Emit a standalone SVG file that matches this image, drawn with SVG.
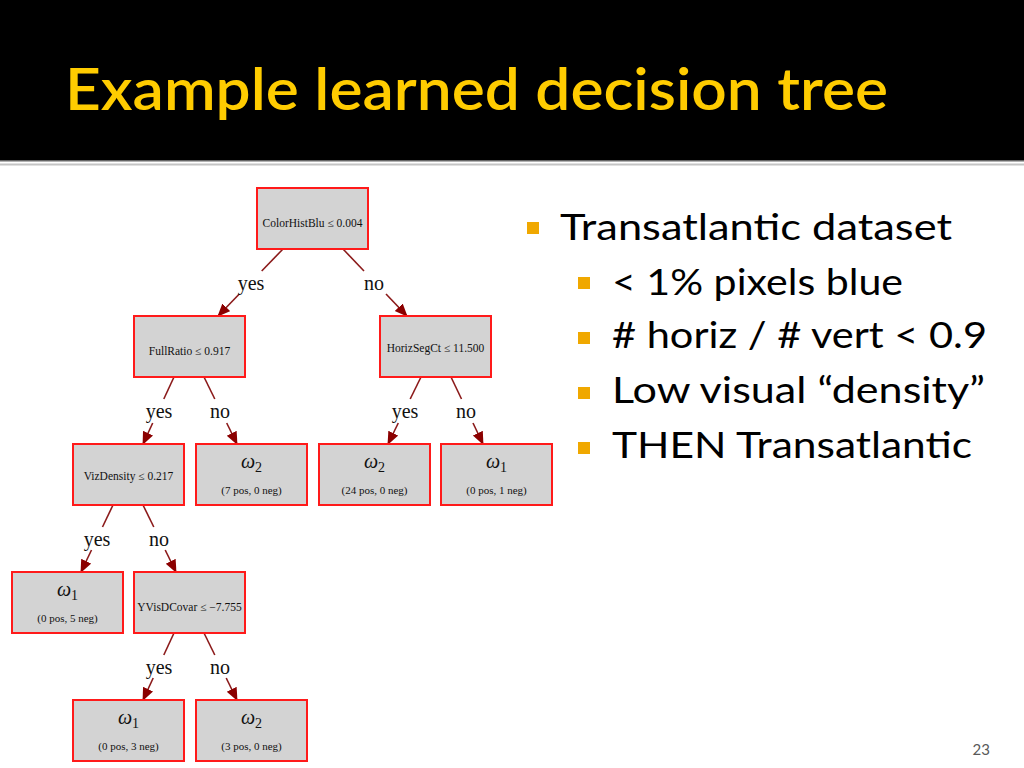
<svg xmlns="http://www.w3.org/2000/svg" width="1024" height="768" viewBox="0 0 1024 768">
<defs>
<style>
.box{fill:#d3d3d3;stroke:#ff1a1a;stroke-width:2}
.t{font-family:"Liberation Serif","Times New Roman",serif;fill:#111;text-anchor:middle}
.cond{font-size:11.5px}
.cnt{font-size:11px}
.om{font-size:20px;font-style:italic}
.sub{font-size:14px;font-style:normal}
.lab{font-family:"Liberation Serif","Times New Roman",serif;font-size:20px;fill:#111;text-anchor:middle}
.e{stroke:#8b1a1a;stroke-width:1.6;fill:none}
.ea{stroke:#8b1a1a;stroke-width:1.6;fill:none;marker-end:url(#ah)}
.bt{font-family:Lato,"Open Sans",sans-serif;font-size:36px;fill:#000}
.bl{fill:#f0a800}
</style>
<marker id="ah" markerUnits="userSpaceOnUse" markerWidth="14" markerHeight="12" refX="12" refY="5.5" orient="auto">
<path d="M0,0 L13,5.5 L0,11 z" fill="#8b0000"/>
</marker>
</defs>
<rect width="1024" height="768" fill="#fff"/>
<rect x="0" y="0" width="1024" height="160" fill="#000"/>
<rect x="0" y="160" width="1024" height="1.5" fill="#666"/>
<rect x="0" y="163.5" width="1024" height="2" fill="#c4c4c4"/>
<text x="65" y="110" font-family="Lato,'Open Sans',sans-serif" font-weight="600" font-size="57" fill="#ffcc00" textLength="823" lengthAdjust="spacingAndGlyphs">Example learned decision tree</text>

<g id="edges">
<line class="e" x1="283" y1="249" x2="261.7" y2="271"/><line class="ea" x1="239.3" y1="294" x2="218" y2="316"/>
<line class="e" x1="343" y1="249" x2="364" y2="271"/><line class="ea" x1="386" y1="294" x2="407" y2="316"/>
<line class="e" x1="174" y1="377" x2="163.8" y2="399"/><line class="ea" x1="152.7" y1="423" x2="143" y2="444"/>
<line class="e" x1="204" y1="377" x2="214.8" y2="399"/><line class="ea" x1="226.7" y1="423" x2="237" y2="444"/>
<line class="e" x1="421" y1="377" x2="410.2" y2="399"/><line class="ea" x1="398.3" y1="423" x2="388" y2="444"/>
<line class="e" x1="451" y1="377" x2="461.5" y2="399"/><line class="ea" x1="473" y1="423" x2="483" y2="444"/>
<line class="e" x1="113" y1="505" x2="102.5" y2="527"/><line class="ea" x1="91.5" y1="550" x2="81" y2="572"/>
<line class="e" x1="143" y1="505" x2="153.8" y2="527"/><line class="ea" x1="165.2" y1="550" x2="176" y2="572"/>
<line class="e" x1="174" y1="633" x2="163.8" y2="655"/><line class="ea" x1="153.2" y1="678" x2="143" y2="700"/>
<line class="e" x1="204" y1="633" x2="214.8" y2="655"/><line class="ea" x1="226.2" y1="678" x2="237" y2="700"/>
<text class="lab" x="251" y="290">yes</text><text class="lab" x="374" y="290">no</text>
<text class="lab" x="159" y="418">yes</text><text class="lab" x="220" y="418">no</text>
<text class="lab" x="405" y="418">yes</text><text class="lab" x="466" y="418">no</text>
<text class="lab" x="97" y="546">yes</text><text class="lab" x="159" y="546">no</text>
<text class="lab" x="159" y="674">yes</text><text class="lab" x="220" y="674">no</text>
</g>

<g id="n_root"><rect class="box" x="257" y="188" width="111" height="61"/><text class="t cond" x="312.5" y="227">ColorHistBlu ≤ 0.004</text></g>
<g id="n_fullratio"><rect class="box" x="134" y="316" width="111" height="61"/><text class="t cond" x="189.5" y="355">FullRatio ≤ 0.917</text></g>
<g id="n_horiz"><rect class="box" x="380" y="316" width="111" height="61"/><text class="t cond" x="435.5" y="352">HorizSegCt ≤ 11.500</text></g>
<g id="n_viz"><rect class="box" x="73" y="444" width="111" height="61"/><text class="t cond" x="128.5" y="480">VizDensity ≤ 0.217</text></g>
<g id="n_leaf_a"><rect class="box" x="196" y="444" width="111" height="61"/><text class="t om" x="251.5" y="468">ω<tspan class="sub" dy="4">2</tspan></text><text class="t cnt" x="251.5" y="494">(7 pos, 0 neg)</text></g>
<g id="n_leaf_b"><rect class="box" x="319" y="444" width="111" height="61"/><text class="t om" x="374.5" y="468">ω<tspan class="sub" dy="4">2</tspan></text><text class="t cnt" x="374.5" y="494">(24 pos, 0 neg)</text></g>
<g id="n_leaf_c"><rect class="box" x="441" y="444" width="111" height="61"/><text class="t om" x="496.5" y="468">ω<tspan class="sub" dy="4">1</tspan></text><text class="t cnt" x="496.5" y="494">(0 pos, 1 neg)</text></g>
<g id="n_leaf_d"><rect class="box" x="12" y="572" width="111" height="61"/><text class="t om" x="67.5" y="596">ω<tspan class="sub" dy="4">1</tspan></text><text class="t cnt" x="67.5" y="622">(0 pos, 5 neg)</text></g>
<g id="n_yvis"><rect class="box" x="134" y="572" width="111" height="61"/><text class="t cond" x="189.5" y="611">YVisDCovar ≤ −7.755</text></g>
<g id="n_leaf_e"><rect class="box" x="73" y="700" width="111" height="61"/><text class="t om" x="128.5" y="724">ω<tspan class="sub" dy="4">1</tspan></text><text class="t cnt" x="128.5" y="750">(0 pos, 3 neg)</text></g>
<g id="n_leaf_f"><rect class="box" x="196" y="700" width="111" height="61"/><text class="t om" x="251.5" y="724">ω<tspan class="sub" dy="4">2</tspan></text><text class="t cnt" x="251.5" y="750">(3 pos, 0 neg)</text></g>

<g id="bullets">
<rect class="bl" x="527" y="222" width="12" height="12"/>
<text class="bt" x="560" y="240" textLength="392" lengthAdjust="spacingAndGlyphs">Transatlantic dataset</text>
<rect class="bl" x="578" y="277" width="12" height="12"/>
<text class="bt" x="612" y="295" textLength="291" lengthAdjust="spacingAndGlyphs">&lt; 1% pixels blue</text>
<rect class="bl" x="578" y="332" width="12" height="12"/>
<text class="bt" x="612" y="348" textLength="375" lengthAdjust="spacingAndGlyphs"># horiz / # vert &lt; 0.9</text>
<rect class="bl" x="578" y="387" width="12" height="12"/>
<text class="bt" x="612" y="403" textLength="373" lengthAdjust="spacingAndGlyphs">Low visual “density”</text>
<rect class="bl" x="578" y="442" width="12" height="12"/>
<text class="bt" x="612" y="458" textLength="360" lengthAdjust="spacingAndGlyphs">THEN Transatlantic</text>
</g>
<text x="990" y="755" font-family="Lato,'Open Sans',sans-serif" font-size="15" fill="#595959" text-anchor="end">23</text>
</svg>
